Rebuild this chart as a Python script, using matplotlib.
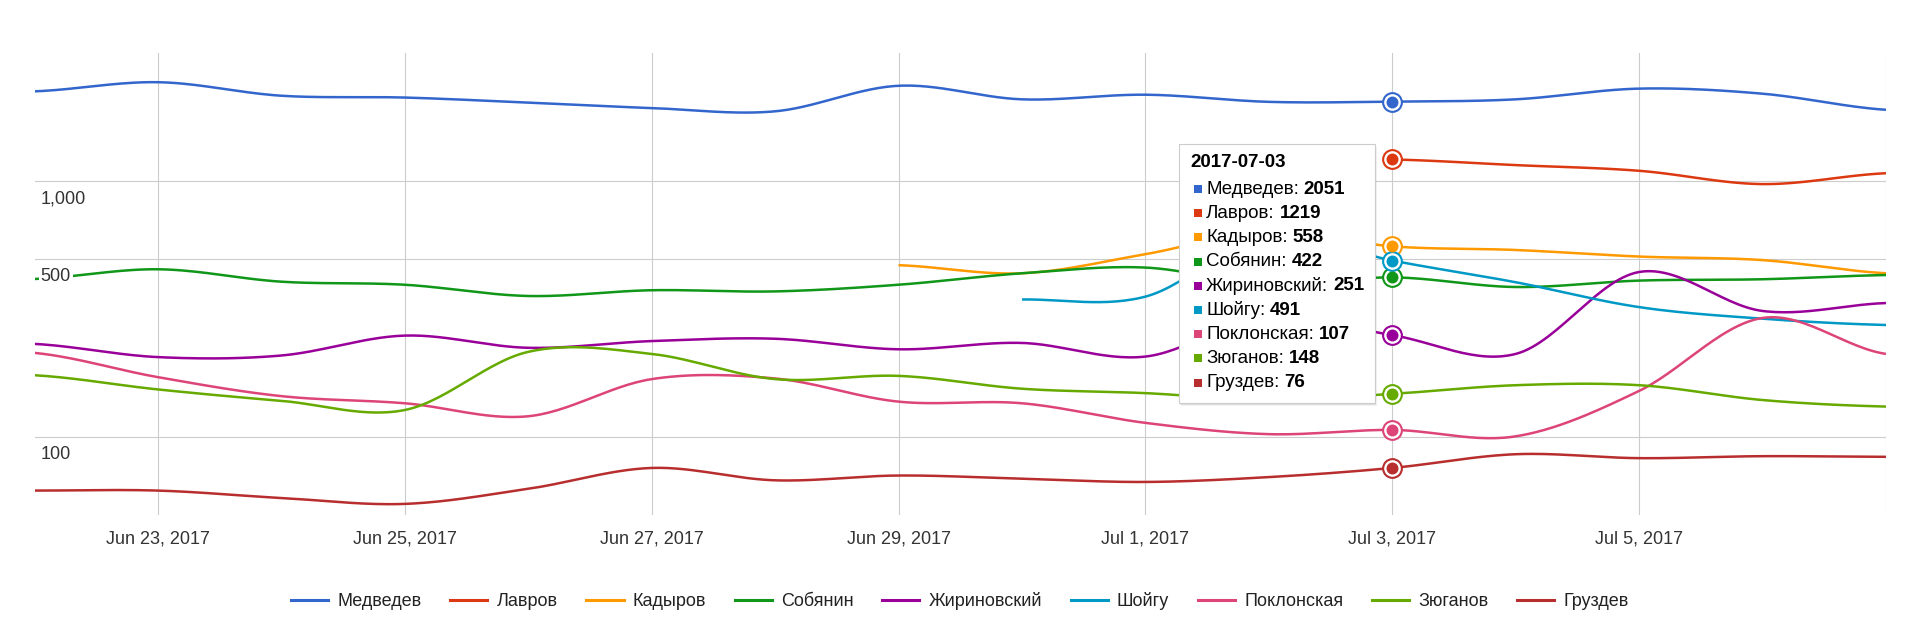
import numpy as np
import pandas as pd
import matplotlib
matplotlib.use('Agg')
import matplotlib.pyplot as plt
import matplotlib.dates as mdates
from matplotlib.patches import Rectangle
from matplotlib.lines import Line2D
from matplotlib.ticker import NullLocator

plt.rcParams['font.family'] = ['Liberation Sans', 'DejaVu Sans']

# daily mentions, Jun 22 .. Jul 7 2017 (log scale chart)
dates = pd.date_range('2017-06-22', '2017-07-07', freq='D')
nan = np.nan

names = ['Медведев', 'Лавров', 'Кадыров', 'Собянин', 'Жириновский',
         'Шойгу', 'Поклонская', 'Зюганов', 'Груздев']
colors = ['#3366cc', '#dc3912', '#ff9900', '#109618', '#990099',
          '#0099c6', '#dd4477', '#66aa00', '#b82e2e']

medvedev = [2250, 2443, 2163, 2128, 2033, 1936, 1880, 2366, 2094, 2183, 2047, 2051, 2094, 2306, 2203, 1906]
lavrov = [nan] * 11 + [1219, 1159, 1101, 977, 1077]
kadyrov = [nan] * 7 + [471, 438, 520, 640, 558, 540, 509, 493, 438]
sobyanin = [416, 454, 406, 395, 357, 376, 372, 395, 438, 461, 395, 422, 387, 410, 415, 431]
zhirinovsky = [232, 206, 209, 250, 224, 238, 243, 221, 234, 207, 300, 251, 212, 443, 312, 335]
shoigu = [nan] * 8 + [346, 355, 620, 491, 404, 323, 291, 275]
poklonskaya = [214, 172, 145, 136, 121, 169, 170, 138, 136, 114, 103, 107, 101, 152, 293, 212]
zyuganov = [175, 154, 139, 128, 216, 212, 169, 174, 155, 149, 140, 148, 160, 160, 140, 132]
gruzdev = [62, 62, 58, 55, 63, 76, 68, 71, 69, 67, 70, 76, 86, 83, 84.5, 84]

series = [medvedev, lavrov, kadyrov, sobyanin, zhirinovsky,
          shoigu, poklonskaya, zyuganov, gruzdev]

hover_idx = 11  # 2017-07-03
ytick_vals = [100, 500, 1000]
ytick_labels = ['100', '500', '1,000']
xtick_dates = pd.date_range('2017-06-23', '2017-07-07', freq='2D')

W, H = 1920, 644


def smooth(x, y, n=30):
    # catmull-rom in log space, like the "function" curve
    y = np.asarray(y, float)
    ok = ~np.isnan(y)
    xs = np.asarray(x)[ok]
    ly = np.log10(y[ok])
    outx, outy = [], []
    for i in range(len(xs) - 1):
        p0 = ly[max(i - 1, 0)]
        p1 = ly[i]
        p2 = ly[i + 1]
        p3 = ly[min(i + 2, len(ly) - 1)]
        m1 = (p2 - p0) / 2
        m2 = (p3 - p1) / 2
        t = np.linspace(0, 1, n, endpoint=(i == len(xs) - 2))
        h00 = 2 * t**3 - 3 * t**2 + 1
        h10 = t**3 - 2 * t**2 + t
        h01 = -2 * t**3 + 3 * t**2
        h11 = t**3 - t**2
        outx.append(xs[i] + t * (xs[i + 1] - xs[i]))
        outy.append(h00 * p1 + h10 * m1 + h01 * p2 + h11 * m2)
    return np.concatenate(outx), 10 ** np.concatenate(outy)


fig = plt.figure(figsize=(W / 100, H / 100), dpi=100)
ax = fig.add_axes([34.5 / W, 1 - 515 / H, (1886 - 34.5) / W, (515 - 53) / H])

xnum = mdates.date2num(dates)
for k, (vals, c) in enumerate(zip(series, colors)):
    sx, sy = smooth(xnum, vals)
    ax.plot(sx, sy, color=c, lw=1.8, zorder=3 + k * 0.01, solid_capstyle='butt')
    v = vals[hover_idx]
    ax.plot(xnum[hover_idx], v, 'o', ms=13.5, mfc='white', mec=c, mew=1.5,
            zorder=6, clip_on=False)
    ax.plot(xnum[hover_idx], v, 'o', ms=8.6, color=c, mew=0, zorder=7, clip_on=False)

ax.set_yscale('log')
ax.set_ylim(10 ** 1.697, 10 ** 3.502)
ax.set_xlim(xnum[0], xnum[-1])
ax.set_yticks(ytick_vals)
ax.yaxis.set_minor_locator(NullLocator())
ax.set_yticklabels([])
ax.set_xticks(mdates.date2num(xtick_dates))
ax.set_xticklabels([f'{d:%b} {d.day}, {d.year}' if i < len(xtick_dates) - 1 else ''
                    for i, d in enumerate(xtick_dates)])
ax.tick_params(length=0, labelsize=13, labelcolor='#333333', pad=11)
ax.grid(True, color='#cccccc', lw=0.8, zorder=0)
ax.set_axisbelow(True)
for s in ax.spines.values():
    s.set_visible(False)

for v, lab in zip(ytick_vals, ytick_labels):
    ax.annotate(lab, xy=(0, v), xycoords=('axes fraction', 'data'),
                xytext=(6, -9), textcoords='offset pixels', ha='left', va='top',
                fontsize=13, color='#333333', zorder=8,
                bbox=dict(boxstyle='square,pad=0.1', fc='white', ec='none'))

# legend
handles = [Line2D([], [], color=c, lw=2.2) for c in colors]
fig.legend(handles, names, loc='center', bbox_to_anchor=(0.5, 1 - 601.5 / H),
           ncol=9, frameon=False, fontsize=13, handlelength=2.05,
           handletextpad=0.5, columnspacing=1.6, labelcolor='#222222')

# tooltip
bx, by, bw, bh = 1179, 144, 196, 259
for off, a in [(3, 0.05), (2, 0.08), (1, 0.12)]:
    fig.add_artist(Rectangle(((bx + off * 0.5) / W, 1 - (by + bh + off) / H), bw / W, bh / H,
                             transform=fig.transFigure, fc='black', ec='none', alpha=a, zorder=9))
fig.add_artist(Rectangle((bx / W, 1 - (by + bh) / H), bw / W, bh / H,
                         transform=fig.transFigure, fc='white', ec='#cccccc', lw=0.8, zorder=10))
fig.text(1190 / W, 1 - 163 / H, dates[hover_idx].strftime('%Y-%m-%d'), fontsize=13.5,
         fontweight='bold', color='black', va='center', ha='left', zorder=11)
for r, (nm, c, vals) in enumerate(zip(names, colors, series)):
    yc = 189 + r * 24.2
    fig.add_artist(Rectangle((1194 / W, 1 - (yc + 4) / H), 8 / W, 8 / H,
                             transform=fig.transFigure, fc=c, ec='none', zorder=11))
    t = fig.text(1206 / W, 1 - yc / H, nm + ':', fontsize=13.5, color='black',
                 va='center', ha='left', zorder=11)
    v = vals[hover_idx]
    ann = ax.annotate(f'{v:g}', xy=(1, 0.5), xycoords=t, xytext=(5, 0),
                      textcoords='offset pixels', va='center', ha='left',
                      fontsize=13.5, fontweight='bold', color='black', annotation_clip=False)
    ann.set_zorder(11)
    ann.remove()
    fig.add_artist(ann)

fig.savefig('out.png', dpi=100, facecolor='white')
